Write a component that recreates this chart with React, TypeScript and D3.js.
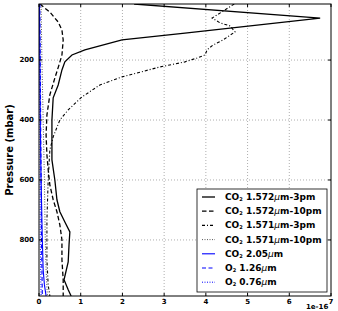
import React from "react";
import * as d3 from "d3";

// Pressure (mbar) and values (1e-16 units)
const solidP = [13, 60, 110, 133, 166, 183, 206, 233, 283, 326, 400, 533, 600, 666, 706, 740, 773, 816, 873, 933, 966, 987];
const solidV = [2.28, 6.74, 3.5, 1.99, 1.1, 0.79, 0.62, 0.55, 0.46, 0.34, 0.31, 0.31, 0.38, 0.43, 0.5, 0.62, 0.74, 0.72, 0.7, 0.6, 0.7, 0.77];

const dashP = [13, 40, 73, 100, 133, 183, 216, 260, 316, 383, 450, 516, 566, 616, 666, 706, 750, 800, 866, 933, 987];
const dashV = [0.02, 0.26, 0.46, 0.55, 0.58, 0.55, 0.48, 0.38, 0.26, 0.19, 0.17, 0.19, 0.22, 0.26, 0.34, 0.43, 0.5, 0.55, 0.55, 0.58, 0.58];

const dashDotP = [13, 60, 76, 86, 106, 133, 150, 166, 183, 193, 206, 223, 256, 283, 323, 366, 400, 456, 500, 600, 733, 866, 950, 987];
const dashDotV = [4.68, 4.15, 4.34, 4.58, 4.7, 4.41, 4.17, 4.03, 3.98, 3.79, 3.5, 2.9, 1.99, 1.46, 1.03, 0.7, 0.5, 0.34, 0.26, 0.22, 0.19, 0.19, 0.22, 0.26];

const dotP = [13, 200, 400, 600, 800, 900, 987];
const dotV = [0.05, 0.07, 0.1, 0.13, 0.15, 0.17, 0.2];

const co205P = [13, 400, 600, 800, 900, 950, 987];
const co205V = [0.01, 0.03, 0.05, 0.08, 0.1, 0.13, 0.17];

const o2126P = [13, 400, 800, 987];
const o2126V = [0.02, 0.04, 0.06, 0.08];

const o2076P = [13, 400, 800, 987];
const o2076V = [0.01, 0.02, 0.03, 0.05];

const xTicks = [0, 1, 2, 3, 4, 5, 6, 7];
const yTicks = [200, 400, 600, 800];

const legendLabels = [
  { mol: "CO", sub: "2", a: " 1.572", b: "m-3pm" },
  { mol: "CO", sub: "2", a: " 1.572", b: "m-10pm" },
  { mol: "CO", sub: "2", a: " 1.571", b: "m-3pm" },
  { mol: "CO", sub: "2", a: " 1.571", b: "m-10pm" },
  { mol: "CO", sub: "2", a: " 2.05", b: "m" },
  { mol: "O", sub: "2", a: " 1.26", b: "m" },
  { mol: "O", sub: "2", a: " 0.76", b: "m" },
];

const W = 338, H = 311;
const L = 39, R = 331, T = 4, B = 296;

export default function App() {
  const x = d3.scaleLinear().domain([0, 7]).range([L, R]);
  const y = d3.scaleLinear().domain([13, 987]).range([T, B]);
  const line = d3.line<[number, number]>().x((d) => x(d[0])).y((d) => y(d[1]));
  const mk = (v: number[], p: number[]) => line(v.map((vv, i) => [vv, p[i]] as [number, number])) || "";

  const series = [
    { d: mk(solidV, solidP), color: "black", dash: "", w: 1.3 },
    { d: mk(dashV, dashP), color: "black", dash: "4.5,2.5", w: 1.3 },
    { d: mk(dashDotV, dashDotP), color: "black", dash: "3,2,1,2", w: 1.1 },
    { d: mk(dotV, dotP), color: "#444", dash: "1,1.5", w: 0.9 },
    { d: mk(co205V, co205P), color: "blue", dash: "", w: 1.1 },
    { d: mk(o2126V, o2126P), color: "blue", dash: "4,2.5", w: 1.1 },
    { d: mk(o2076V, o2076P), color: "blue", dash: "1,1.5", w: 1.0 },
  ];

  const lgX = 197, lgY = 189, lgW = 130, lgH = 103;
  const rowY0 = 197, rowDy = 14.2;
  const font = "DejaVu Sans, sans-serif";

  return (
    <svg width={W} height={H} style={{ position: "absolute", left: 0, top: 0, background: "white" }} fontFamily={font}>
      <defs>
        <clipPath id="plotclip">
          <rect x={L} y={T} width={R - L} height={B - T} />
        </clipPath>
      </defs>
      <rect x={0} y={0} width={W} height={H} fill="white" />
      {/* grid */}
      {xTicks.slice(1, -1).map((t) => (
        <line key={"gx" + t} x1={x(t)} x2={x(t)} y1={T} y2={B} stroke="#999" strokeWidth={0.8} strokeDasharray="1,2" />
      ))}
      {yTicks.map((t) => (
        <line key={"gy" + t} x1={L} x2={R} y1={y(t)} y2={y(t)} stroke="#999" strokeWidth={0.8} strokeDasharray="1,2" />
      ))}
      {/* series */}
      <g clipPath="url(#plotclip)">
        {series.map((s, i) => (
          <path key={i} d={s.d} fill="none" stroke={s.color} strokeWidth={s.w} strokeDasharray={s.dash || undefined} />
        ))}
      </g>
      {/* ticks */}
      {xTicks.map((t) => (
        <g key={"tx" + t}>
          <line x1={x(t)} x2={x(t)} y1={B} y2={B - 3} stroke="black" />
          <line x1={x(t)} x2={x(t)} y1={T} y2={T + 3} stroke="black" />
          <text x={x(t)} y={304} fontSize={7} fontWeight="bold" textAnchor="middle">{t}</text>
        </g>
      ))}
      {yTicks.map((t) => (
        <g key={"ty" + t}>
          <line x1={L} x2={L + 3} y1={y(t)} y2={y(t)} stroke="black" />
          <line x1={R} x2={R - 3} y1={y(t)} y2={y(t)} stroke="black" />
          <text x={34} y={y(t)} fontSize={7} fontWeight="bold" textAnchor="end" dominantBaseline="central">{t}</text>
        </g>
      ))}
      <rect x={L} y={T} width={R - L} height={B - T} fill="none" stroke="black" strokeWidth={1} />
      <text x={306} y={309} fontSize={7} fontWeight="bold" textAnchor="start">1e-16</text>
      <text transform={`translate(13,${(T + B) / 2}) rotate(-90)`} fontSize={10} fontWeight="bold" textAnchor="middle">
        Pressure (mbar)
      </text>
      {/* legend */}
      <rect x={lgX} y={lgY} width={lgW} height={lgH} fill="white" stroke="black" strokeWidth={0.8} />
      {legendLabels.map((l, i) => {
        const yy = rowY0 + i * rowDy;
        const s = series[i];
        return (
          <g key={"lg" + i}>
            <line x1={202} x2={215} y1={yy} y2={yy} stroke={s.color} strokeWidth={s.w} strokeDasharray={s.dash || undefined} />
            <text x={225} y={yy} fontSize={9} fontWeight="bold" dominantBaseline="central">
              {l.mol}
              <tspan fontSize={5} dy={2}>{l.sub}</tspan>
              <tspan dy={-2}>{l.a}</tspan>
              <tspan fontStyle="italic" fontWeight="normal">μ</tspan>
              <tspan>{l.b}</tspan>
            </text>
          </g>
        );
      })}
    </svg>
  );
}
